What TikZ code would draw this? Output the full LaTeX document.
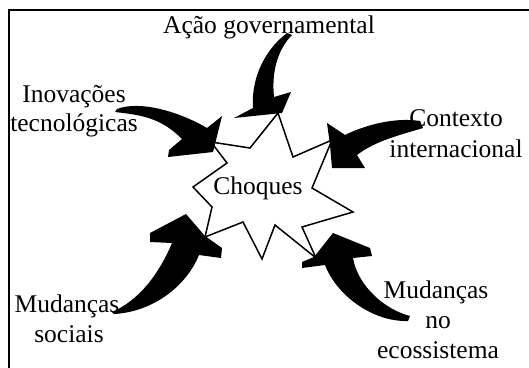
\documentclass[tikz,border=0pt]{standalone}
\usepackage{fontspec}
\setmainfont{Liberation Serif}
\begin{document}
\begin{tikzpicture}[x=1pt,y=-1pt,
  lbl/.style={anchor=base,inner sep=0pt,font=\fontsize{25.5}{29}\selectfont},
  frameline/.style={line width=2pt,line cap=rect},
  bang/.style={draw=black,fill=white,line width=1.5pt,line join=miter},
  bigarrow/.style={fill=black}]
\useasboundingbox (0,0) rectangle (529,367);

% frame (open at right and bottom)
\coordinate (fbl) at (9,367);
\coordinate (ftl) at (9,10);
\coordinate (ftr) at (529,10);
\draw[frameline] (fbl) -- (ftl) -- (ftr);

% labels
\node[lbl] (gov)  at (269,33)  {Ação governamental};
\node[lbl] (inova) at (74,102) {Inovações};
\node[lbl] (inovb) at (74,131) {tecnológicas};
\node[lbl] (ctxa) at (456,126) {Contexto};
\node[lbl] (ctxb) at (456,157) {internacional};
\node[lbl] (soca) at (67,312)  {Mudanças};
\node[lbl] (socb) at (69,342)  {sociais};
\node[lbl] (ecoa) at (436,298) {Mudanças};
\node[lbl] (ecob) at (438,328) {no};
\node[lbl] (ecoc) at (438,358) {ecossistema};

% the burst
\draw[bang] (278,113) -- (293,157) -- (332,140) -- (312,188) -- (353,212)
  -- (302,227) -- (316,258) -- (275,225) -- (262,259) -- (243,222)
  -- (205,237) -- (212,207) -- (193,187) -- (227,163) -- (211,142)
  -- (250,148) -- cycle;
\node[lbl] (choq) at (258,194) {Choques};

% curved block arrows
% from above
\fill[bigarrow] (292,35) .. controls (280,47) and (271,68) .. (274,97)
  -- (291,92) -- (282,113) -- (234,118) -- (253,108)
  .. controls (251,82) and (262,52) .. (287,33) -- cycle;
% from the upper left
\fill[bigarrow] (115,112) .. controls (140,115) and (160,117) .. (182,139)
  -- (169,150) -- (168,157) -- (213,152) -- (222,116) -- (207,128)
  .. controls (180,112) and (140,100) .. (117,109) -- cycle;
% from the upper right
\fill[bigarrow] (327,123) -- (345,135)
  .. controls (365,125) and (395,117) .. (420,121) -- (423,128)
  .. controls (400,135) and (375,141) .. (357,155)
  -- (365,168) -- (332,168) -- (330,145) -- cycle;
% from the lower left
\fill[bigarrow] (186,214) -- (150,233) -- (150,242) -- (172,243)
  .. controls (160,272) and (140,300) .. (112,312) -- (114,314)
  .. controls (152,312) and (186,287) .. (199,255)
  -- (221,258) -- (222,248) -- (205,236) -- cycle;
% from the lower right
\fill[bigarrow] (333,233) -- (370,248) -- (372,256) -- (353,258)
  .. controls (358,287) and (386,310) .. (410,316) -- (408,321)
  .. controls (373,322) and (337,296) .. (325,265)
  -- (302,268) -- (302,262) -- (314,257) -- cycle;
\end{tikzpicture}
\end{document}
